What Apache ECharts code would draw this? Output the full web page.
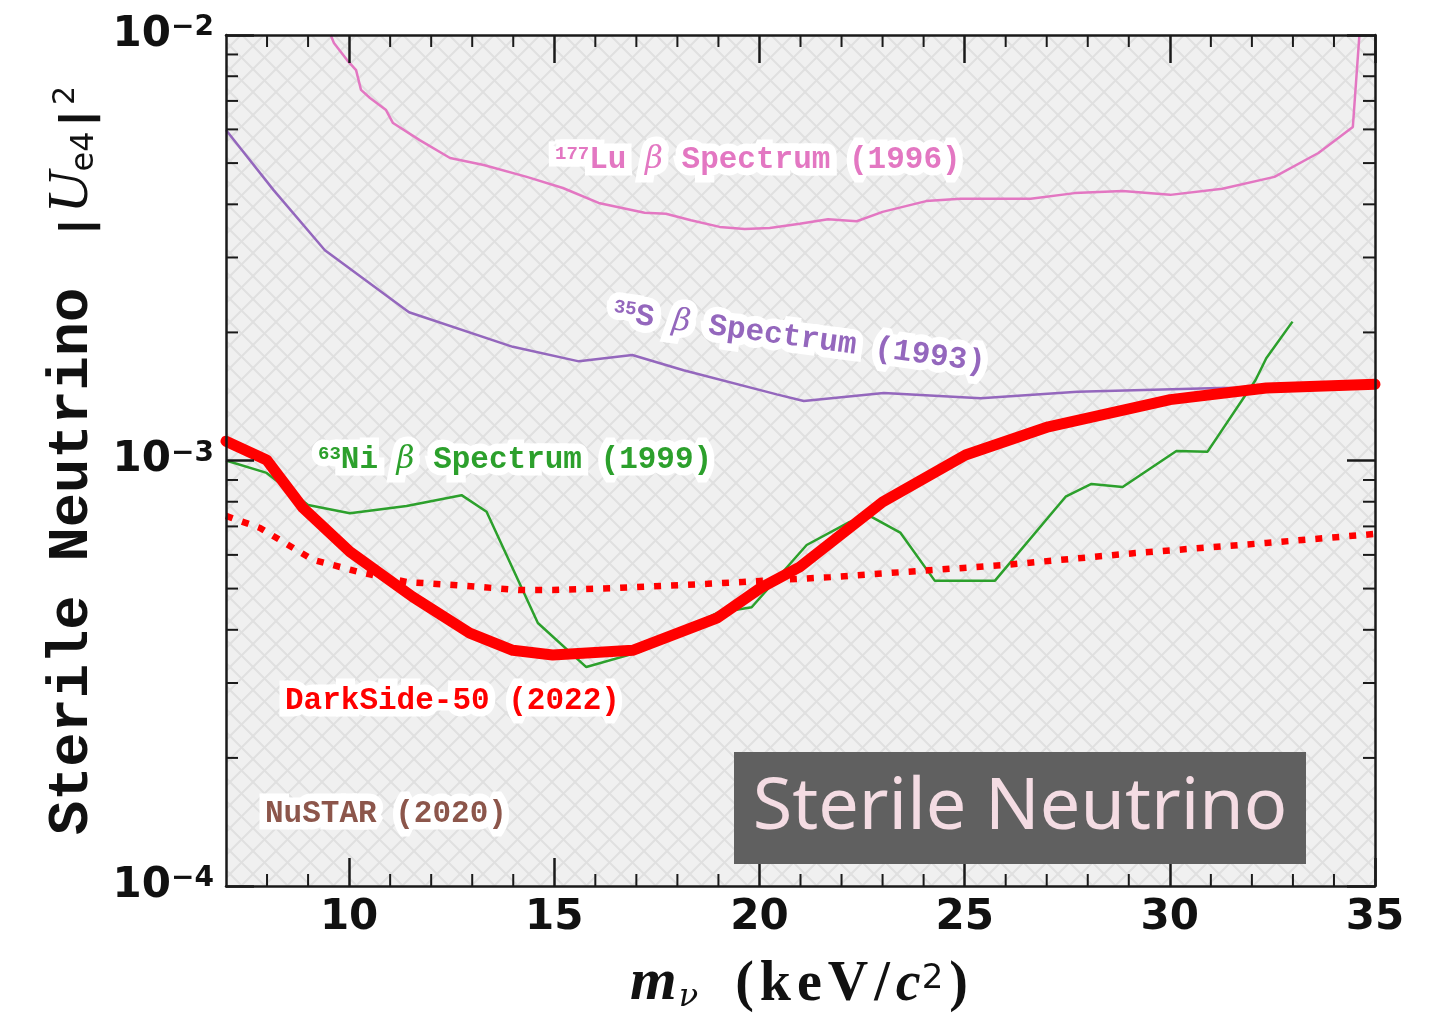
<!DOCTYPE html>
<html>
<head>
<meta charset="utf-8">
<script src="https://cdn.jsdelivr.net/npm/echarts@6/dist/echarts.min.js"></script>
<style>
  html, body { margin: 0; padding: 0; background: #ffffff; }
  #chart { width: 1439px; height: 1014px; }
</style>
</head>
<body>
<div id="chart"></div>
<script>
// Sterile-neutrino mixing limits |U_e4|^2 versus mass m_nu (keV/c^2)

// 177Lu beta spectrum (1996)
const luMass = [9.55, 9.63, 9.95, 10.17, 10.29, 10.51, 10.90, 11.07, 11.72, 12.46, 13.28, 14.33, 15.21, 16.08, 17.20, 17.72, 18.33, 19.03, 19.64, 20.25, 20.98, 21.67, 22.37, 23.00, 24.06, 24.90, 26.61, 27.68, 28.85, 30.01, 31.28, 32.55, 33.62, 34.46, 34.62];
const luMixing = [1.00e-2, 9.58e-3, 8.73e-3, 8.27e-3, 7.43e-3, 7.11e-3, 6.66e-3, 6.21e-3, 5.66e-3, 5.14e-3, 4.95e-3, 4.64e-3, 4.37e-3, 4.03e-3, 3.82e-3, 3.80e-3, 3.67e-3, 3.54e-3, 3.50e-3, 3.52e-3, 3.60e-3, 3.69e-3, 3.65e-3, 3.84e-3, 4.07e-3, 4.12e-3, 4.12e-3, 4.25e-3, 4.30e-3, 4.21e-3, 4.35e-3, 4.64e-3, 5.28e-3, 6.08e-3, 1.00e-2];

// 35S beta spectrum (1993)
const sMass = [7.0, 8.16, 9.41, 11.46, 13.99, 15.60, 16.90, 18.15, 20.42, 21.08, 23.03, 25.39, 27.75, 31.21, 35.0];
const sMixing = [5.98e-3, 4.32e-3, 3.12e-3, 2.23e-3, 1.85e-3, 1.71e-3, 1.77e-3, 1.63e-3, 1.43e-3, 1.38e-3, 1.44e-3, 1.40e-3, 1.45e-3, 1.48e-3, 1.49e-3];

// 63Ni beta spectrum (1999)
const niMass = [7.0, 7.99, 9.0, 10.02, 11.40, 12.74, 13.35, 14.60, 15.78, 17.08, 18.96, 19.81, 21.15, 22.20, 22.73, 23.43, 24.27, 25.74, 27.46, 28.09, 28.85, 30.16, 30.92, 32.09, 32.35, 32.99];
const niMixing = [1.00e-3, 9.35e-4, 7.86e-4, 7.52e-4, 7.82e-4, 8.29e-4, 7.58e-4, 4.15e-4, 3.27e-4, 3.55e-4, 4.38e-4, 4.52e-4, 6.33e-4, 7.17e-4, 7.37e-4, 6.77e-4, 5.22e-4, 5.22e-4, 8.22e-4, 8.81e-4, 8.66e-4, 1.053e-3, 1.049e-3, 1.546e-3, 1.739e-3, 2.12e-3];

// DarkSide-50 (2022), solid limit
const dsMass = [7.0, 7.99, 8.88, 10.02, 11.55, 12.94, 13.99, 14.96, 15.79, 16.91, 18.96, 20.03, 20.98, 23.00, 25.02, 27.04, 30.01, 32.35, 35.0];
const dsMixing = [1.11e-3, 1.003e-3, 7.73e-4, 6.10e-4, 4.78e-4, 3.93e-4, 3.58e-4, 3.49e-4, 3.53e-4, 3.58e-4, 4.26e-4, 5.02e-4, 5.62e-4, 7.99e-4, 1.03e-3, 1.20e-3, 1.39e-3, 1.48e-3, 1.51e-3];

// Dotted red curve
const dotMass = [7.0, 7.83, 9.12, 10.34, 11.41, 12.53, 14.16, 14.96, 16.60, 18.74, 21.73, 25.97, 29.16, 32.35, 35.0];
const dotMixing = [7.41e-4, 6.94e-4, 5.84e-4, 5.44e-4, 5.18e-4, 5.10e-4, 4.96e-4, 4.96e-4, 5.02e-4, 5.13e-4, 5.32e-4, 5.68e-4, 6.06e-4, 6.40e-4, 6.72e-4];

// Axis ranges and tick positions
const X_MIN = 7, X_MAX = 35;
const Y_MIN = 1e-4, Y_MAX = 1e-2;
const xMajorTicks = [10, 15, 20, 25, 30, 35];
const xMinorTicks = [8, 9, 11, 12, 13, 14, 16, 17, 18, 19, 21, 22, 23, 24, 26, 27, 28, 29, 31, 32, 33, 34];
const yMinorTicks = [2e-4, 3e-4, 4e-4, 5e-4, 6e-4, 7e-4, 8e-4, 9e-4, 2e-3, 3e-3, 4e-3, 5e-3, 6e-3, 7e-3, 8e-3, 9e-3];

const INK = '#1a1a1a';
const MONO = '"Liberation Mono", "Courier New", monospace';
const SERIF = '"Liberation Serif", "Times New Roman", serif';
const SANS = '"DejaVu Sans", sans-serif';

function pairs(xs, ys) { return xs.map((x, i) => [x, ys[i]]); }

// Cross-hatched fill for the excluded region
function hatchPattern() {
  const s = 23;
  const c = document.createElement('canvas');
  c.width = s; c.height = s;
  const g = c.getContext('2d');
  g.fillStyle = '#f0f0f0';
  g.fillRect(0, 0, s, s);
  g.strokeStyle = '#e0e0e0';
  g.lineWidth = 2;
  for (const dx of [-s, 0, s]) {
    g.beginPath(); g.moveTo(dx, 0); g.lineTo(dx + s, s); g.stroke();
    g.beginPath(); g.moveTo(dx, s); g.lineTo(dx + s, 0); g.stroke();
  }
  return c;
}

// Annotation text: a white halo layer underneath, coloured glyphs on top
const annoRich = {
  t: { fontSize: 31, fontFamily: MONO, fontWeight: 'bold', lineHeight: 31, padding: [7, 0, 0, 0], verticalAlign: 'bottom' },
  sup: { fontSize: 19, fontFamily: MONO, fontWeight: 'bold', lineHeight: 20, verticalAlign: 'top' },
  b: { fontSize: 31, fontFamily: '"DejaVu Serif", serif', fontStyle: 'italic', lineHeight: 31, padding: [7, 0, 0, 0], verticalAlign: 'bottom' }
};
function annotation(text, x, y, color, rotation) {
  const base = { type: 'text', x: x, y: y, rotation: rotation || 0, silent: true };
  const common = { text: text, font: 'bold 31px ' + MONO, align: 'left', verticalAlign: 'middle', rich: annoRich };
  return [
    Object.assign({}, base, { z: 30, style: Object.assign({}, common, { fill: '#ffffff', stroke: '#ffffff', lineWidth: 15 }) }),
    Object.assign({}, base, { z: 31, style: Object.assign({}, common, { fill: color }) })
  ];
}

const axisLineStyle = { show: true, onZero: false, lineStyle: { color: INK, width: 2.5 } };
const majorTickStyle = { color: INK, width: 2.5 };

// x-axis title pieces: each character padded for the wide spacing of the unit
const unitRich = {
  m: { fontFamily: SERIF, fontStyle: 'italic', fontWeight: 'bold', fontSize: 60, lineHeight: 52, padding: [10, 2, 0, 0], verticalAlign: 'bottom' },
  nu: { fontFamily: '"DejaVu Serif", serif', fontStyle: 'italic', fontSize: 32, lineHeight: 24, padding: [0, 34, 0, 0], verticalAlign: 'bottom' },
  p: { fontFamily: SERIF, fontWeight: 'bold', fontSize: 56, lineHeight: 52, padding: [10, 3, 0, 3], verticalAlign: 'bottom' },
  c: { fontFamily: SERIF, fontStyle: 'italic', fontWeight: 'bold', fontSize: 56, lineHeight: 52, padding: [10, 1, 0, 3], verticalAlign: 'bottom' },
  s2: { fontFamily: SANS, fontSize: 34, lineHeight: 28, padding: [0, 3, 0, 0], verticalAlign: 'top' }
};

const chart = echarts.init(document.getElementById('chart'), null, { renderer: 'canvas' });

chart.setOption({
  animation: false,
  backgroundColor: '#ffffff',
  grid: {
    left: 226, right: 64, top: 35, bottom: 128,
    outerBoundsMode: 'none',
    show: true, borderWidth: 0,
    backgroundColor: { image: hatchPattern(), repeat: 'repeat' }
  },
  xAxis: [
    {
      type: 'value', min: X_MIN, max: X_MAX, position: 'bottom', z: 10,
      axisLine: axisLineStyle,
      splitLine: { show: false },
      axisTick: { show: true, inside: true, length: 28, customValues: xMajorTicks, lineStyle: majorTickStyle },
      axisLabel: { customValues: xMajorTicks, margin: 11, fontSize: 42, fontWeight: 'bold', fontFamily: SANS, color: '#111' },
      name: '{m|m}{nu|ν}{p|(}{p|k}{p|e}{p|V}{p|/}{c|c}{s2|2}{p|)}',
      nameLocation: 'middle', nameGap: 55,
      nameTextStyle: { color: '#111', rich: unitRich }
    },
    {
      type: 'value', min: X_MIN, max: X_MAX, position: 'top', z: 10,
      axisLine: axisLineStyle,
      splitLine: { show: false },
      axisTick: { show: true, inside: true, length: 28, customValues: xMajorTicks, lineStyle: majorTickStyle },
      axisLabel: { show: false }
    }
  ],
  yAxis: [
    {
      type: 'log', logBase: 10, min: Y_MIN, max: Y_MAX, position: 'left', z: 10,
      axisLine: axisLineStyle,
      splitLine: { show: false },
      axisTick: { show: true, inside: true, length: 28, lineStyle: majorTickStyle },
      axisLabel: {
        margin: 12,
        formatter: function (v) {
          const e = Math.round(Math.log10(v));
          return '{b|10}{e|−' + Math.abs(e) + '}';
        },
        rich: {
          b: { fontFamily: SANS, fontWeight: 'bold', fontSize: 42, lineHeight: 42, padding: [8, 0, 0, 0], verticalAlign: 'bottom', color: '#111' },
          e: { fontFamily: SANS, fontWeight: 'bold', fontSize: 28, lineHeight: 28, verticalAlign: 'top', color: '#111' }
        }
      },
      name: '{t|Sterile Neutrino}{g|  }{bar||}{u|U}{sub|e4}{bar||}{sup|2}',
      nameLocation: 'middle', nameRotate: 90, nameGap: 125,
      nameTextStyle: {
        color: '#111',
        rich: {
          t: { fontFamily: MONO, fontWeight: 'bold', fontSize: 57, lineHeight: 50, padding: [10, 0, 0, 0], verticalAlign: 'bottom' },
          g: { fontFamily: MONO, fontSize: 40, lineHeight: 50, padding: [10, 0, 0, 0], verticalAlign: 'bottom' },
          bar: { fontFamily: MONO, fontWeight: 'bold', fontSize: 44, lineHeight: 50, padding: [10, 0, 0, 0], verticalAlign: 'bottom' },
          u: { fontFamily: SERIF, fontStyle: 'italic', fontSize: 58, lineHeight: 50, padding: [10, 0, 0, 0], verticalAlign: 'bottom' },
          sub: { fontFamily: SANS, fontSize: 32, lineHeight: 28, verticalAlign: 'bottom' },
          sup: { fontFamily: SANS, fontSize: 30, lineHeight: 28, verticalAlign: 'top' }
        }
      }
    },
    {
      type: 'log', logBase: 10, min: Y_MIN, max: Y_MAX, position: 'right', z: 10,
      axisLine: axisLineStyle,
      splitLine: { show: false },
      axisTick: { show: true, inside: true, length: 28, lineStyle: majorTickStyle },
      axisLabel: { show: false }
    }
  ],
  series: [
    {
      name: '177Lu β Spectrum (1996)', type: 'line', showSymbol: false, z: 2,
      data: pairs(luMass, luMixing),
      lineStyle: { color: '#e377c2', width: 2.5 }
    },
    {
      name: '35S β Spectrum (1993)', type: 'line', showSymbol: false, z: 2,
      data: pairs(sMass, sMixing),
      lineStyle: { color: '#9467bd', width: 2.5 }
    },
    {
      name: '63Ni β Spectrum (1999)', type: 'line', showSymbol: false, z: 3,
      data: pairs(niMass, niMixing),
      lineStyle: { color: '#2ca02c', width: 2.5 }
    },
    {
      name: 'dotted', type: 'line', showSymbol: false, z: 4,
      data: pairs(dotMass, dotMixing),
      lineStyle: { color: '#ff0000', width: 6.5, type: [7, 10], cap: 'butt' }
    },
    {
      name: 'DarkSide-50 (2022)', type: 'line', showSymbol: false, z: 5,
      data: pairs(dsMass, dsMixing),
      lineStyle: { color: '#ff0000', width: 11, cap: 'round', join: 'round' }
    },
    {
      // minor ticks on all four sides of the frame
      name: 'minor ticks', type: 'custom', coordinateSystem: 'cartesian2d',
      clip: false, silent: true, z: 11,
      encode: { x: 0, y: 1 },
      data: xMinorTicks.map(v => [v, Y_MIN, 0]).concat(yMinorTicks.map(v => [X_MIN, v, 1])),
      renderItem: function (params, api) {
        const L = 12;
        const style = { stroke: INK, lineWidth: 2 };
        if (api.value(2) === 0) {
          const v = api.value(0);
          const b = api.coord([v, Y_MIN]);
          const t = api.coord([v, Y_MAX]);
          return { type: 'group', children: [
            { type: 'line', shape: { x1: b[0], y1: b[1], x2: b[0], y2: b[1] - L }, style: style },
            { type: 'line', shape: { x1: t[0], y1: t[1], x2: t[0], y2: t[1] + L }, style: style }
          ] };
        }
        const v = api.value(1);
        const l = api.coord([X_MIN, v]);
        const r = api.coord([X_MAX, v]);
        return { type: 'group', children: [
          { type: 'line', shape: { x1: l[0], y1: l[1], x2: l[0] + L, y2: l[1] }, style: style },
          { type: 'line', shape: { x1: r[0], y1: r[1], x2: r[0] - L, y2: r[1] }, style: style }
        ] };
      }
    }
  ],
  graphic: [].concat(
    annotation('{sup|177}{t|Lu }{b|β}{t| Spectrum (1996)}', 555, 160, '#e377c2'),
    annotation('{sup|35}{t|S }{b|β}{t| Spectrum (1993)}', 613, 313, '#9467bd', -0.135),
    annotation('{sup|63}{t|Ni }{b|β}{t| Spectrum (1999)}', 318, 460, '#2ca02c'),
    annotation('{t|DarkSide-50 (2022)}', 285, 701, '#ff0000'),
    annotation('{t|NuSTAR (2020)}', 265, 814, '#8c564b'),
    [
      {
        type: 'rect', z: 40, silent: true,
        shape: { x: 734, y: 752, width: 572, height: 112 },
        style: { fill: '#606060' }
      },
      {
        type: 'text', z: 41, x: 1020, y: 808, silent: true,
        style: { text: 'Sterile Neutrino', fill: '#f4dce3', font: '72px "Noto Sans", sans-serif', align: 'center', verticalAlign: 'middle' }
      }
    ]
  )
});
</script>
</body>
</html>
